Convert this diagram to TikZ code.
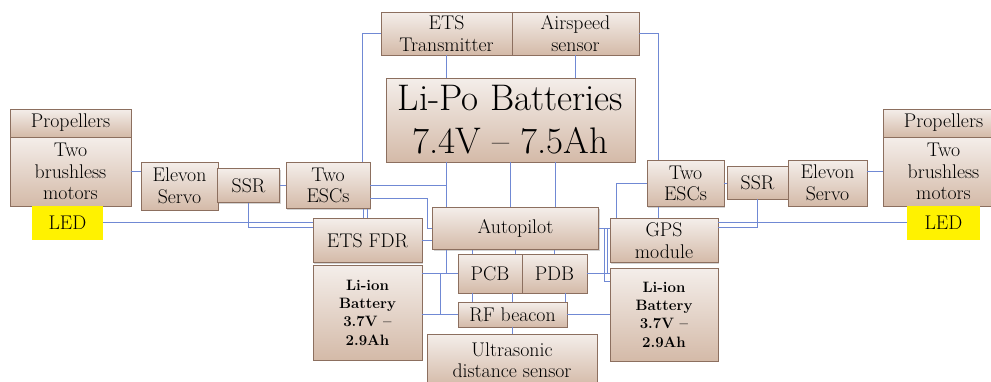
\documentclass[tikz,border=0pt]{standalone}
\usetikzlibrary{shadows}
\definecolor{boxtop}{HTML}{F4EEEA}
\definecolor{boxbot}{HTML}{D4BAA8}
\definecolor{boxline}{HTML}{8C6F5F}
\definecolor{wireblue}{HTML}{7089D4}
\begin{document}
\begin{tikzpicture}[x=1pt, y=-1pt, line width=0.6pt,
  blk/.style={draw=boxline, line width=0.9pt, top color=boxtop, bottom color=boxbot,
    inner sep=0pt, align=center, font=\fontsize{19.8}{21.5}\selectfont,
    drop shadow={shadow xshift=1.2pt, shadow yshift=-1.2pt, opacity=0.35}},
  cell/.style={blk, font=\fontsize{15}{18.3}\selectfont\bfseries},
  led/.style={fill=yellow, inner sep=0pt, font=\fontsize{19.8}{21.5}\selectfont},
  wire/.style={draw=wireblue, line width=1pt}]
  \useasboundingbox (0,0) rectangle (991,381);
  \clip (0,0) rectangle (991,381);

  \node[blk, minimum width=131pt, minimum height=43pt] (etstx) at (446.5,33.5) {ETS\\Transmitter};
  \node[blk, minimum width=127pt, minimum height=43pt] (airsp) at (575.5,33.5) {Airspeed\\sensor};
  \node[blk, minimum width=249pt, minimum height=84pt, font=\fontsize{37}{43}\selectfont] (lipo) at (510.5,120) {Li-Po Batteries\\7.4V -- 7.5Ah};

  \node[blk, minimum width=121pt, minimum height=69pt] (motL) at (70.5,171.5) {Two\\brushless\\motors};
  \node[blk, minimum width=121pt, minimum height=28pt] (propL) at (70.5,123) {Propellers};
  \node[led, minimum width=71pt, minimum height=34pt] (ledL) at (67.5,222.5) {LED};
  \node[blk, minimum width=77pt, minimum height=48pt] (servoL) at (179.5,186) {Elevon\\Servo};
  \node[blk, minimum width=62pt, minimum height=34pt] (ssrL) at (248.5,185.5) {SSR};
  \node[blk, minimum width=84pt, minimum height=46pt] (escL) at (328,185.5) {Two\\ESCs};
  \node[blk, minimum width=109pt, minimum height=44pt] (fdr) at (367.5,240.5) {ETS FDR};
  \node[cell, minimum width=109pt, minimum height=95pt] (lionL) at (367.5,312.5) {Li-ion\\Battery\\3.7V --\\2.9Ah};

  \node[blk, minimum width=166pt, minimum height=42pt] (autop) at (515.5,228.5) {Autopilot};
  \node[blk, minimum width=64pt, minimum height=39pt] (pcb) at (490,273.5) {PCB};
  \node[blk, minimum width=65pt, minimum height=39pt] (pdb) at (554.5,273.5) {PDB};
  \node[blk, minimum width=109pt, minimum height=25pt] (rfb) at (512.5,314.5) {RF beacon};
  \node[blk, minimum width=170pt, minimum height=52pt] (ultra) at (512,360) {Ultrasonic\\distance sensor};

  \node[blk, minimum width=108pt, minimum height=44pt] (gps) at (664,240.5) {GPS\\module};
  \node[cell, minimum width=108pt, minimum height=93pt] (lionR) at (664,314.5) {Li-ion\\Battery\\3.7V --\\2.9Ah};
  \node[blk, minimum width=77pt, minimum height=46pt] (escR) at (685.5,183.5) {Two\\ESCs};
  \node[blk, minimum width=61pt, minimum height=33pt] (ssrR) at (757.5,182.5) {SSR};
  \node[blk, minimum width=79pt, minimum height=46pt] (servoR) at (827.5,183) {Elevon\\Servo};
  \node[blk, minimum width=121pt, minimum height=69pt] (motR) at (943.5,171.5) {Two\\brushless\\motors};
  \node[blk, minimum width=121pt, minimum height=28pt] (propR) at (943.5,123) {Propellers};
  \node[led, minimum width=73pt, minimum height=34pt] (ledR) at (943.5,222.5) {LED};

  \draw[wire] (etstx.west) -- ++(-18.5,0) coordinate (k1) -- (k1 |- escL.north);
  \draw[wire] (airsp.east) -- ++(19.5,0) coordinate (k2) -- (k2 |- escR.north);
  \draw[wire] (etstx.south) -- (etstx.south |- lipo.north);
  \draw[wire] (airsp.south) -- (airsp.south |- lipo.north);
  \draw[wire] (etstx.south |- lipo.south) -- (etstx.south |- autop.north);
  \draw[wire] (lipo.south) -- (lipo.south |- autop.north);
  \draw[wire] ([xshift=40pt]autop.north) coordinate (k4) -- (k4 |- lipo.south);

  \draw[wire] (motL.east) -- (motL.east -| servoL.west);
  \draw[wire] (ssrL.east) -- (ssrL.east -| escL.west);
  \draw[wire] (escL.east) -- (escL.east -| etstx.south);
  \draw[wire] ([yshift=-13pt]escL.east) -- ++(57.5,0) |- (autop.west);
  \draw[wire] ([xshift=35.5pt]escL.south) coordinate (k5) -- (k5 |- fdr.north);
  \draw[wire] ([xshift=39.5pt]escL.south) coordinate (k6) -- (k6 |- fdr.north);
  \draw[wire] (ledL.east) -- (ledL.east -| fdr.west);
  \draw[wire] (ssrL.south) |- ([yshift=13pt]fdr.west);
  \draw[wire] (fdr.east) -- (fdr.east -| autop.west);

  \draw[wire] (etstx.south |- autop.south) -- (etstx.south |- pcb.west);
  \draw[wire] (pcb.west -| lionL.east) -- (pcb.west);
  \draw[wire] (pcb.west -| lionL.east) ++(18.5,0) coordinate (j1) -- (j1 |- rfb.west);
  \draw[wire] (rfb.west -| lionL.east) -- (rfb.west);
  \draw[wire] ([xshift=-17.5pt]pcb.north) coordinate (j2) -- (j2 |- autop.south)
    (j2 |- pcb.south) -- (j2 |- rfb.north);
  \draw[wire] (autop.south) -- (autop.south |- pcb.north);
  \draw[wire] (pdb.north) -- (pdb.north |- autop.south);
  \draw[wire] (rfb.north) -- (rfb.north |- pcb.south);
  \draw[wire] ([xshift=-1.5pt]rfb.north east) coordinate (j3) -- (j3 |- pdb.south);
  \draw[wire] (rfb.south) -- (rfb.south |- ultra.north);

  \draw[wire] (escR.west) -- ++(-30.5,0) coordinate (k3) -- (k3 |- gps.north);
  \draw[wire] (k2 |- escR.south) -- (k2 |- gps.north);
  \draw[wire] (escR.east) -- (escR.east -| ssrR.west);
  \draw[wire] (motR.west) -- (motR.west -| servoR.east);
  \draw[wire] (ledR.west) -- (ledR.west -| gps.east);
  \draw[wire] (ssrR.south) |- ([yshift=13pt]gps.east);
  \draw[wire] (autop.east) -- (autop.east -| gps.west);
  \draw[wire] ([xshift=6pt]autop.east) |- ([yshift=33pt]lionR.west);
  \draw[wire] ([xshift=9pt]autop.east) coordinate (j4) -- (j4 |- pdb.east);
  \draw[wire] (pdb.east) -- (pdb.east -| lionR.west);
  \draw[wire] (rfb.east) -- (rfb.east -| lionR.west);
\end{tikzpicture}
\end{document}
